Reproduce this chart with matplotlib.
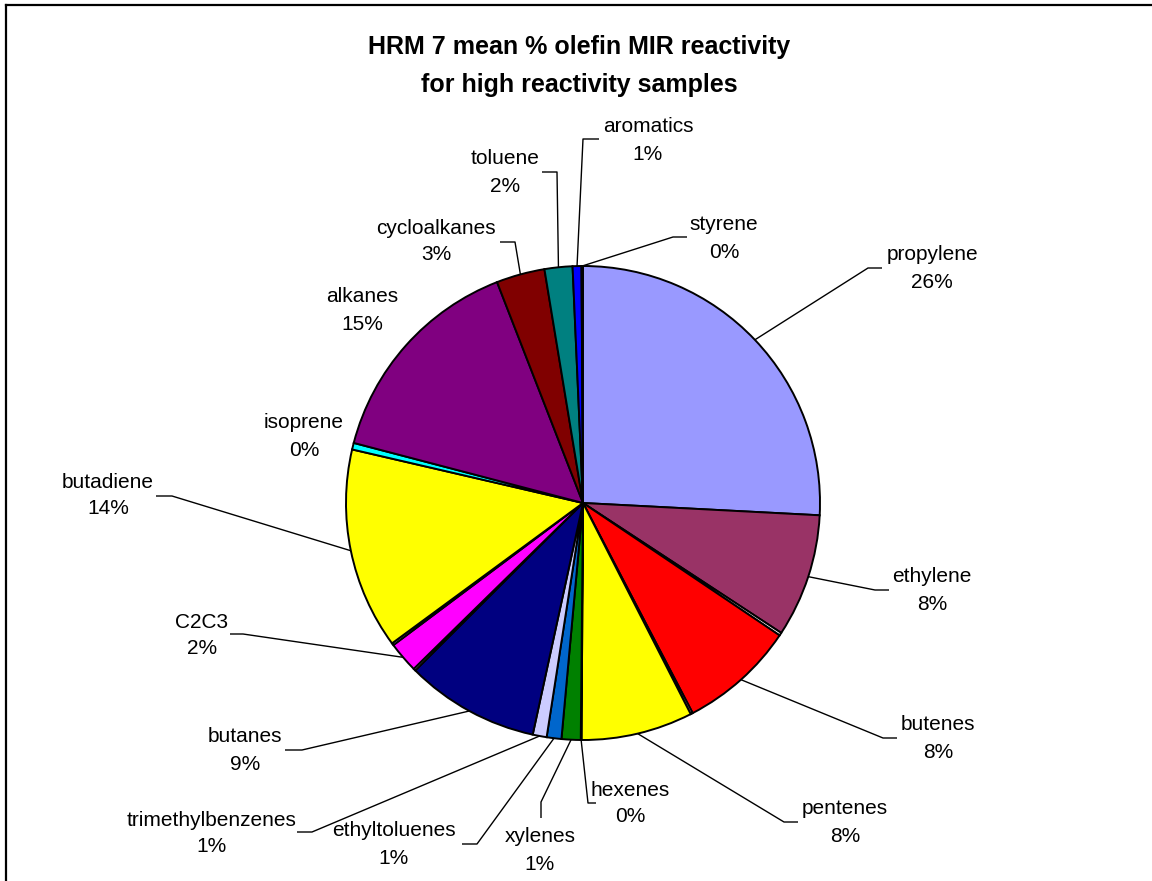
import matplotlib
matplotlib.use("Agg")
import matplotlib.pyplot as plt
import numpy as np

W, H = 1152, 881

# Slices clockwise from 12 o'clock; unnamed entries are tiny unlabeled slivers
categories = ["propylene", "ethylene", "", "butenes", "", "pentenes", "hexenes",
              "xylenes", "ethyltoluenes", "trimethylbenzenes", "butanes", "",
              "C2C3", "", "butadiene", "isoprene", "alkanes", "cycloalkanes",
              "toluene", "aromatics", "styrene"]
values = [25.8, 8.4, 0.2, 7.9, 0.15, 7.6, 0.05,
          1.3, 1.0, 0.95, 9.1, 0.15,
          2.1, 0.15, 13.7, 0.45, 15.0, 3.3,
          1.9, 0.6, 0.1]
colors = ["#9999FF", "#993366", "#FFFFFF", "#FF0000", "#FFFFFF", "#FFFF00", "#660066",
          "#008000", "#0066CC", "#CCCCFF", "#000080", "#FFFFFF",
          "#FF00FF", "#FFFFFF", "#FFFF00", "#00FFFF", "#800080", "#800000",
          "#008080", "#0000FF", "#00CCFF"]

title_lines = ["HRM 7 mean % olefin MIR reactivity", "for high reactivity samples"]

# Label layout in pixel coordinates (y down): text centre of first line,
# and the leader path from the elbow outward (None = no leader line)
label_layout = {
    "propylene":         ((932, 255), [(868, 268), (882, 268)]),
    "ethylene":          ((932, 577), [(875, 590), (889, 590)]),
    "butenes":           ((938, 725), [(883, 738), (897, 738)]),
    "pentenes":          ((845, 809), [(784, 822), (798, 822)]),
    "hexenes":           ((630, 790), [(588, 803), (596, 803)]),
    "xylenes":           ((540, 837), [(541, 802), (541, 818)]),
    "ethyltoluenes":     ((394, 831), [(477, 844), (462, 844)]),
    "trimethylbenzenes": ((212, 820), [(312, 832), (297, 832)]),
    "butanes":           ((245, 737), [(302, 750), (285, 750)]),
    "C2C3":              ((202, 622), [(243, 634), (230, 634)]),
    "butadiene":         ((108, 482), [(172, 496), (156, 496)]),
    "isoprene":          ((304, 423), None),
    "alkanes":           ((362, 297), None),
    "cycloalkanes":      ((436, 228), [(515, 242), (500, 242)]),
    "toluene":           ((505, 159), [(557, 172), (542, 172)]),
    "aromatics":         ((648, 127), [(583, 139), (599, 139)]),
    "styrene":           ((724, 225), [(673, 237), (687, 237)]),
}

CX, CY, R = 583, 503, 237
LINE_GAP = 27


def fy(y):
    return H - y


plt.rcParams["font.family"] = ["Liberation Sans", "DejaVu Sans"]

fig = plt.figure(figsize=(W / 100, H / 100), dpi=100)
ax = fig.add_axes([0, 0, 1, 1])

wedges, _ = ax.pie(values, colors=colors, startangle=90, counterclock=False,
                   center=(CX, fy(CY)), radius=R,
                   wedgeprops=dict(edgecolor="black", linewidth=1.4))
ax.set_xlim(0, W)
ax.set_ylim(0, H)
ax.set_aspect("equal")
ax.axis("off")

total = sum(values)
for name, val, w in zip(categories, values, wedges):
    if not name:
        continue
    (tx, ty), path = label_layout[name]
    ax.text(tx, fy(ty), name, ha="center", va="center", fontsize=15, color="black")
    ax.text(tx, fy(ty + LINE_GAP), f"{val / total * 100:.0f}%", ha="center",
            va="center", fontsize=15, color="black")
    if path is not None:
        mid = np.deg2rad((w.theta1 + w.theta2) / 2)
        rx = CX + R * np.cos(mid)
        ry = fy(CY) + R * np.sin(mid)
        xs = [rx] + [p[0] for p in path]
        ys = [ry] + [fy(p[1]) for p in path]
        ax.plot(xs, ys, color="black", linewidth=1.0, solid_capstyle="butt")

ax.text(579, fy(47), title_lines[0], ha="center", va="center", fontsize=18,
        fontweight="bold")
ax.text(579, fy(85), title_lines[1], ha="center", va="center", fontsize=18,
        fontweight="bold")

# Chart-area border along the top and left edges
ax.plot([6, W], [fy(5), fy(5)], color="black", linewidth=1.6)
ax.plot([6, 6], [fy(5), 0], color="black", linewidth=1.6)

fig.savefig("out.png", dpi=100)
